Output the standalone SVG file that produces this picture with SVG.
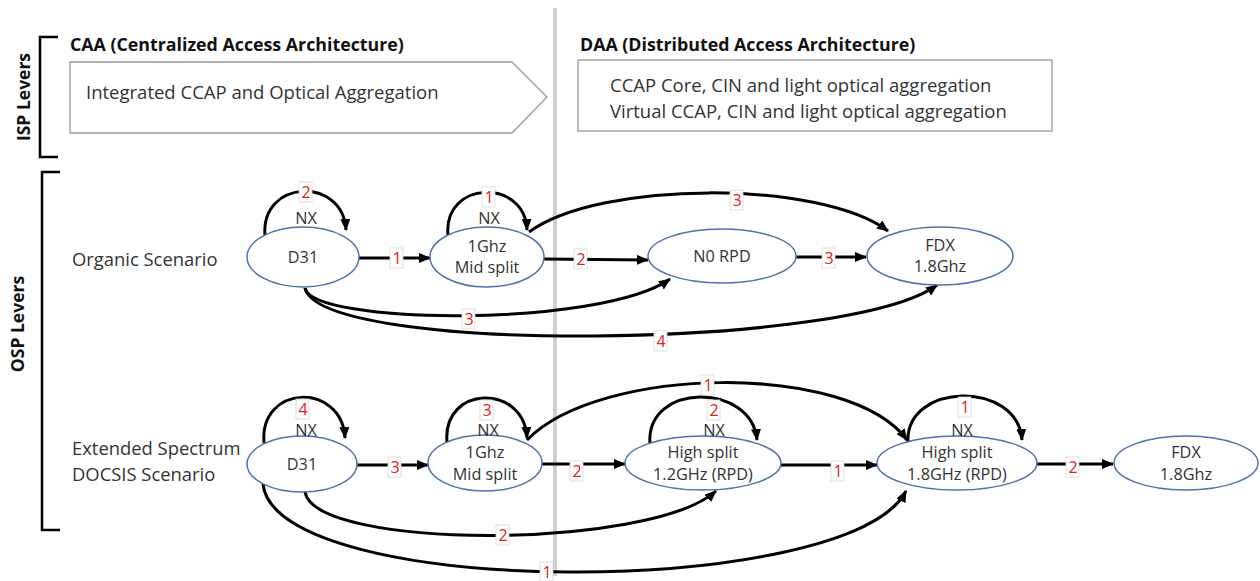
<svg xmlns="http://www.w3.org/2000/svg" width="1260" height="581" viewBox="0 0 1260 581">
<defs>
<marker id="ah" markerWidth="12" markerHeight="10" refX="11" refY="5" orient="auto" markerUnits="userSpaceOnUse">
<path d="M0,0 L12,5 L0,10 Z" fill="#000"/>
</marker>
<style>
text{font-family:"Open Sans","Liberation Sans",sans-serif;fill:#333}
.hdr{font-size:17.8px;font-weight:bold;fill:#111}
.box{font-size:18.5px;fill:#333}
.side{font-size:17.5px;font-weight:bold;fill:#111}
.scn{font-size:18.4px}
.nt{font-size:16.3px;text-anchor:middle}
.nd{fill:#fff;stroke:#4e73ad;stroke-width:1.5}
.cn{fill:none;stroke:#000;stroke-width:3;marker-end:url(#ah)}
.lb rect{fill:#fff;stroke:#d8d8d8;stroke-width:0.8}
.lb text{font-size:16px;fill:#e02020;text-anchor:middle}
.br{fill:none;stroke:#000;stroke-width:2.5}
</style>
</defs>
<rect width="1260" height="581" fill="#fff"/>
<line x1="555" y1="8" x2="555" y2="576" stroke="#d0d0d0" stroke-width="4"/>
<g id="isp-levers">
<path class="br" d="M58,37 L40,37 L40,157 L58,157"/>
<text class="side" transform="translate(30,97) rotate(-90)" text-anchor="middle">ISP Levers</text>
</g>
<g id="osp-levers">
<path class="br" d="M60,172 L42,172 L42,530 L60,530"/>
<text class="side" transform="translate(24,324) rotate(-90)" text-anchor="middle">OSP Levers</text>
</g>
<g id="caa">
<text class="hdr" x="70" y="51">CAA (Centralized Access Architecture)</text>
<path d="M70,62 L512,62 L547,97 L512,133 L70,133 Z" fill="#fff" stroke="#999" stroke-width="1.3"/>
<text class="box" x="86" y="99">Integrated CCAP and Optical Aggregation</text>
</g>
<g id="daa">
<text class="hdr" x="580" y="51">DAA (Distributed Access Architecture)</text>
<rect x="578" y="60" width="474" height="71" fill="#fff" stroke="#999" stroke-width="1.3"/>
<text class="box" x="610" y="92">CCAP Core, CIN and light optical aggregation</text>
<text class="box" x="610" y="118">Virtual CCAP, CIN and light optical aggregation</text>
</g>
<g id="scenario-labels">
<text class="scn" x="72" y="266">Organic Scenario</text>
<text class="scn" x="72" y="455">Extended Spectrum</text>
<text class="scn" x="72" y="481">DOCSIS Scenario</text>
</g>
<g id="connectors">
<path class="cn" d="M265,236 C260,179 343,176 346,230"/>
<path class="cn" d="M448,235 C443,180 525,178 527,230"/>
<path class="cn" d="M359,258 L430,258"/>
<path class="cn" d="M544,259 L648,260"/>
<path class="cn" d="M796,257 L866,257"/>
<path class="cn" d="M529,232 C600,180 820,180 888,231"/>
<path class="cn" d="M305,288 C312,325 600,328 670,279"/>
<path class="cn" d="M305,288 C320,355 850,350 937,285"/>
<path class="cn" d="M264,443 C259,384 342,382 345,438"/>
<path class="cn" d="M447,442 C442,385 524,383 527,438"/>
<path class="cn" d="M650,444 C645,382 752,382 757,440"/>
<path class="cn" d="M908,442 C905,382 1018,380 1022,440"/>
<path class="cn" d="M357,465 L428,465"/>
<path class="cn" d="M542,464 L625,464"/>
<path class="cn" d="M781,465 L877,465"/>
<path class="cn" d="M1037,464 L1113,464"/>
<path class="cn" d="M527,440 C600,365 850,362 907,440"/>
<path class="cn" d="M305,492 C315,550 650,550 716,491"/>
<path class="cn" d="M263,484 C275,600 850,600 906,491"/>
</g>
<g id="node-d31-a"><ellipse class="nd" cx="303" cy="257" rx="56" ry="30"/><text class="nt" x="303" y="263">D31</text><text class="nt" x="306" y="224">NX</text></g>
<g id="node-mid-a"><ellipse class="nd" cx="487" cy="257" rx="57" ry="30"/><text class="nt" x="487" y="252">1Ghz</text><text class="nt" x="487" y="273">Mid split</text><text class="nt" x="489" y="224">NX</text></g>
<g id="node-n0-a"><ellipse class="nd" cx="722" cy="256" rx="74" ry="27"/><text class="nt" x="722" y="262">N0 RPD</text></g>
<g id="node-fdx-a"><ellipse class="nd" cx="940" cy="256" rx="73" ry="29"/><text class="nt" x="940" y="251">FDX</text><text class="nt" x="940" y="272">1.8Ghz</text></g>
<g id="node-d31-b"><ellipse class="nd" cx="302" cy="464" rx="55" ry="28"/><text class="nt" x="302" y="470">D31</text><text class="nt" x="306" y="436">NX</text></g>
<g id="node-mid-b"><ellipse class="nd" cx="485" cy="463" rx="57" ry="28"/><text class="nt" x="485" y="458">1Ghz</text><text class="nt" x="485" y="480">Mid split</text><text class="nt" x="488" y="436">NX</text></g>
<g id="node-hs12-b"><ellipse class="nd" cx="703" cy="463" rx="78" ry="27"/><text class="nt" x="703" y="458">High split</text><text class="nt" x="703" y="480">1.2GHz (RPD)</text><text class="nt" x="714" y="436">NX</text></g>
<g id="node-hs18-b"><ellipse class="nd" cx="957" cy="463" rx="80" ry="27"/><text class="nt" x="957" y="458">High split</text><text class="nt" x="957" y="480">1.8GHz (RPD)</text><text class="nt" x="962" y="436">NX</text></g>
<g id="node-fdx-b"><ellipse class="nd" cx="1186" cy="463" rx="72" ry="27"/><text class="nt" x="1186" y="458">FDX</text><text class="nt" x="1186" y="480">1.8Ghz</text></g>
<g id="labels">
<g class="lb"><rect x="299" y="182" width="13" height="20"/><text x="306" y="198">2</text></g>
<g class="lb"><rect x="482" y="187" width="13" height="20"/><text x="489" y="203">1</text></g>
<g class="lb"><rect x="390" y="248" width="13" height="20"/><text x="397" y="264">1</text></g>
<g class="lb"><rect x="574" y="249" width="13" height="20"/><text x="581" y="265">2</text></g>
<g class="lb"><rect x="822" y="248" width="13" height="20"/><text x="829" y="264">3</text></g>
<g class="lb"><rect x="730" y="190" width="13" height="20"/><text x="737" y="206">3</text></g>
<g class="lb"><rect x="462" y="309" width="13" height="20"/><text x="469" y="325">3</text></g>
<g class="lb"><rect x="654" y="331" width="13" height="20"/><text x="661" y="347">4</text></g>
<g class="lb"><rect x="296" y="399" width="13" height="20"/><text x="303" y="415">4</text></g>
<g class="lb"><rect x="480" y="400" width="13" height="20"/><text x="487" y="416">3</text></g>
<g class="lb"><rect x="707" y="400" width="13" height="20"/><text x="714" y="416">2</text></g>
<g class="lb"><rect x="958" y="397" width="13" height="20"/><text x="965" y="413">1</text></g>
<g class="lb"><rect x="701" y="375" width="13" height="20"/><text x="708" y="391">1</text></g>
<g class="lb"><rect x="388" y="457" width="13" height="20"/><text x="395" y="473">3</text></g>
<g class="lb"><rect x="570" y="461" width="13" height="20"/><text x="577" y="477">2</text></g>
<g class="lb"><rect x="831" y="461" width="13" height="20"/><text x="838" y="477">1</text></g>
<g class="lb"><rect x="1066" y="457" width="13" height="20"/><text x="1073" y="473">2</text></g>
<g class="lb"><rect x="496" y="525" width="13" height="20"/><text x="503" y="541">2</text></g>
<g class="lb"><rect x="540" y="562" width="13" height="19"/><text x="547" y="578">1</text></g>
</g>
</svg>
